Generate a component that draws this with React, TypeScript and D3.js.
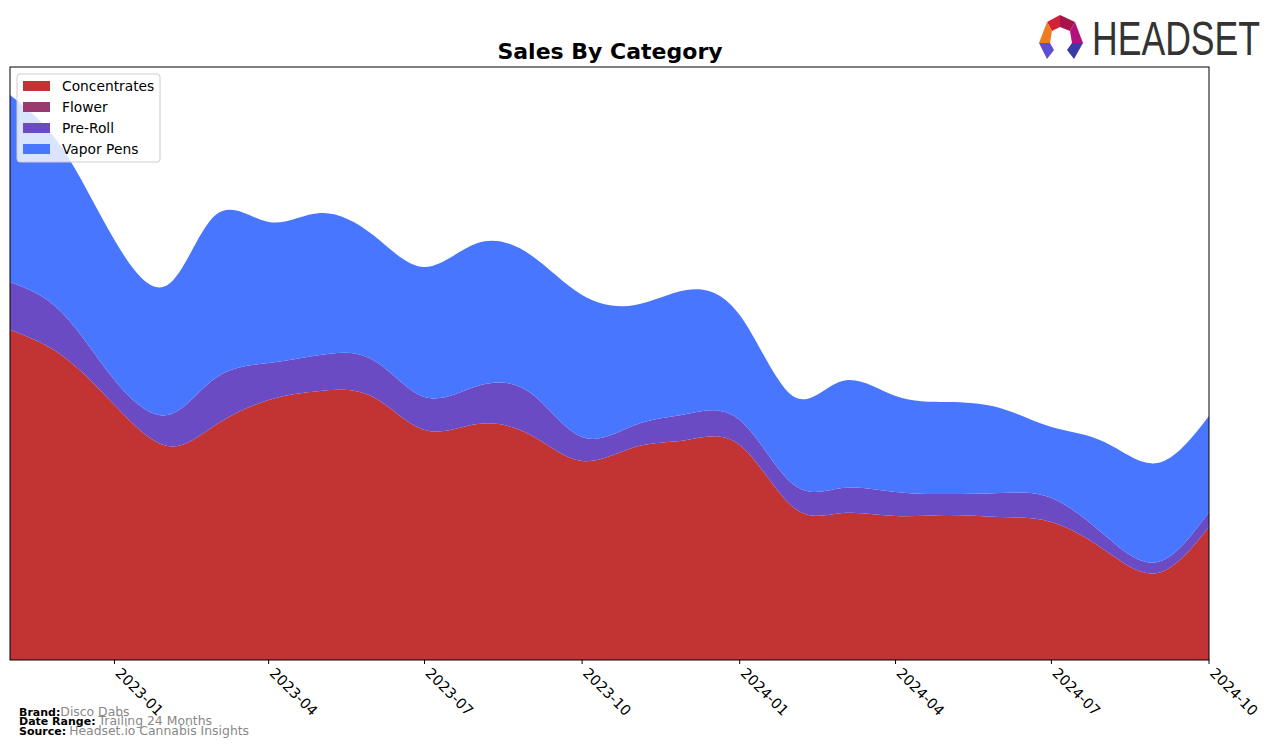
import React from "react";
import * as d3 from "d3";

const months = [
  "2022-11","2022-12","2023-01","2023-02","2023-03","2023-04","2023-05","2023-06",
  "2023-07","2023-08","2023-09","2023-10","2023-11","2023-12","2024-01","2024-02",
  "2024-03","2024-04","2024-05","2024-06","2024-07","2024-08","2024-09","2024-10",
];
const categories = ["Concentrates", "Flower", "Pre-Roll", "Vapor Pens"];
const colors = ["#c23334", "#993a6e", "#6a4bc4", "#4876ff"];

// values in arbitrary units (thousands)
const concentrates = [330, 305, 255, 214, 235, 260, 269, 263, 230, 236, 225, 199, 213, 220, 215, 153, 147, 144, 145, 143, 138, 110, 87, 133];
const flower = [0, 0, 0, 0, 0, 0, 0, 0, 0, 0, 0, 0, 0, 0, 0, 0, 0, 0, 0, 0, 0, 0, 0, 0];
const preRoll = [48, 43, 25, 31, 47, 37, 36, 37, 33, 38, 42, 24, 22, 26, 25, 23, 25, 24, 21, 24, 24, 15, 11, 15];
const vaporPens = [187, 165, 140, 130, 163, 141, 142, 125, 130, 143, 138, 142, 120, 124, 105, 88, 107, 96, 92, 85, 71, 93, 99, 96];
const tickLabels = ["2023-01","2023-04","2023-07","2023-10","2024-01","2024-04","2024-07","2024-10"];

const W = 1276, H = 748;
const M = { left: 10, top: 67, right: 1209, bottom: 660 };

export default function App() {
  const parse = d3.timeParse("%Y-%m");
  const dates = months.map((m) => parse(m) as Date);
  const rows = months.map((m, i) => ({
    date: dates[i],
    Concentrates: concentrates[i],
    Flower: flower[i],
    "Pre-Roll": preRoll[i],
    "Vapor Pens": vaporPens[i],
  }));
  const x = d3.scaleTime().domain([dates[0], dates[dates.length - 1]]).range([M.left, M.right]);
  const y = d3.scaleLinear().domain([0, 593]).range([M.bottom, M.top]);
  const series = d3.stack<any>().keys(categories)(rows);
  const area = d3
    .area<any>()
    .x((d) => x(d.data.date))
    .y0((d) => y(d[0]))
    .y1((d) => y(d[1]))
    .curve(d3.curveNatural);

  const ticks = tickLabels.map((t) => parse(t) as Date);
  const font = "DejaVu Sans, sans-serif";

  return (
    <svg width={W} height={H} style={{ position: "absolute", left: 0, top: 0 }} fontFamily={font}>
      <rect width={W} height={H} fill="#fff" />
      <defs>
        <clipPath id="plot">
          <rect x={M.left} y={M.top} width={M.right - M.left} height={M.bottom - M.top} />
        </clipPath>
      </defs>
      <g clipPath="url(#plot)">
        {series.map((s, i) => (
          <path key={s.key} d={area(s) || ""} fill={colors[i]} stroke="none" />
        ))}
      </g>
      <rect x={M.left} y={M.top} width={M.right - M.left} height={M.bottom - M.top} fill="none" stroke="#000" strokeWidth={1} />
      {ticks.map((t, i) => {
        const tx = x(t);
        return (
          <g key={tickLabels[i]}>
            <line x1={tx} x2={tx} y1={M.bottom} y2={M.bottom + 4} stroke="#000" />
            <text
              x={0}
              y={0}
              transform={`translate(${tx},${M.bottom + 14}) rotate(45)`}
              fontSize={14.5}
              fill="#000"
            >
              {tickLabels[i]}
            </text>
          </g>
        );
      })}
      <text x={610} y={59} textAnchor="middle" fontSize={22} fontWeight="bold" fill="#000">
        Sales By Category
      </text>
      {/* legend */}
      <g>
        <rect x={17} y={74} width={143} height={88} rx={3} fill="#fff" fillOpacity={0.8} stroke="#ccc" />
        {categories.map((c, i) => (
          <g key={c} transform={`translate(23,${81 + i * 21})`}>
            <rect x={0} y={0} width={27} height={10} fill={colors[i]} />
            <text x={39} y={10} fontSize={13.8} fill="#000">{c}</text>
          </g>
        ))}
      </g>
      {/* footer */}
      <g>
        <text x={19} y={716}>
          <tspan fontWeight="bold" fill="#000" fontSize={11}>Brand:</tspan>
          <tspan fill="#888" fontSize={12.4}>Disco Dabs</tspan>
        </text>
        <text x={19} y={725}>
          <tspan fontWeight="bold" fill="#000" fontSize={11}>Date Range:</tspan>
          <tspan fill="#888" dx={3} fontSize={12.4}>Trailing 24 Months</tspan>
        </text>
        <text x={19} y={735}>
          <tspan fontWeight="bold" fill="#000" fontSize={11}>Source:</tspan>
          <tspan fill="#888" dx={3} fontSize={12.4}>Headset.io Cannabis Insights</tspan>
        </text>
      </g>
      {/* logo */}
      <g>
        <polygon points="1047,22 1060,15 1060,27 1052,31" fill="#d4213a" />
        <polygon points="1060,15 1075,22 1070,31 1060,27" fill="#a5154a" />
        <polygon points="1047,22 1052,31 1050,43 1039,43" fill="#f07c22" />
        <polygon points="1075,22 1083,43 1072,43 1070,31" fill="#b3117c" />
        <polygon points="1039,43 1050,43 1054,50 1047,59" fill="#5a4fcf" />
        <polygon points="1083,43 1072,43 1067,50 1074,59" fill="#3b3aa8" />
        <text x={1092} y={55} fontSize={48} fill="#333" textLength={168} lengthAdjust="spacingAndGlyphs" fontFamily="Liberation Sans Narrow, Liberation Sans, sans-serif">
          HEADSET
        </text>
      </g>
    </svg>
  );
}
